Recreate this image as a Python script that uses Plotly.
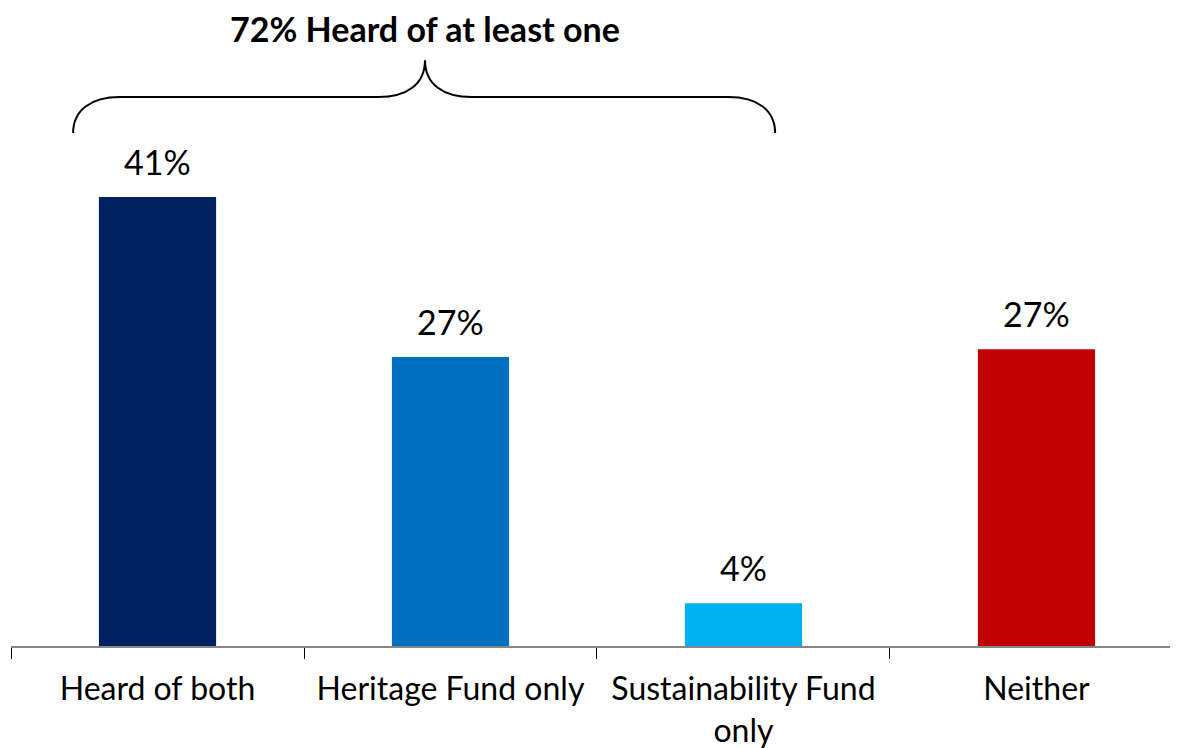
import plotly.graph_objects as go

categories = ["Heard of both", "Heritage Fund only", "Sustainability Fund<br>only", "Neither"]
values = [41.0, 26.4, 3.9, 27.1]
value_labels = ["41%", "27%", "4%", "27%"]
colors = ["#002060", "#0070C0", "#00B0F0", "#C00000"]
brace_title = "72% Heard of at least one"

FONT = "Lato"

fig = go.Figure()
fig.add_trace(go.Bar(
    x=categories,
    y=values,
    marker=dict(color=colors, line=dict(width=0)),
    width=0.4,
    hoverinfo="skip",
))

# value labels above the bars
for i, (v, lab) in enumerate(zip(values, value_labels)):
    fig.add_annotation(x=i, y=v, text=lab, showarrow=False, yanchor="bottom",
                       yshift=13, font=dict(family=FONT, size=34, color="black"))

# curly brace over the first three bars
x0, x1, xm = -0.288, 2.108, 0.913
yb, yh, yp = 46.85, 50.14, 53.5
brace = (
    f"M {x0},{yb} C {x0},{yh-1.2} {x0+0.06},{yh} {x0+0.16},{yh} "
    f"L {xm-0.16},{yh} C {xm-0.06},{yh} {xm},{yh+1.2} {xm},{yp} "
    f"C {xm},{yh+1.2} {xm+0.06},{yh} {xm+0.16},{yh} "
    f"L {x1-0.16},{yh} C {x1-0.06},{yh} {x1},{yh-1.2} {x1},{yb}"
)
fig.add_shape(type="path", path=brace, xref="x", yref="y",
              line=dict(color="black", width=2))
fig.add_annotation(x=xm, y=56.4, text=f"<b>{brace_title}</b>", showarrow=False,
                   yanchor="middle", font=dict(family=FONT, size=34, color="black"))

fig.update_layout(
    width=1178, height=748,
    margin=dict(l=3, r=8, t=0, b=110),
    plot_bgcolor="white", paper_bgcolor="white",
    showlegend=False,
    font=dict(family=FONT, color="black"),
)
fig.update_xaxes(
    type="category",
    range=[-0.5, 3.483],
    showline=True, linecolor="#868686", linewidth=2,
    ticks="outside", tickson="boundaries", ticklen=11, tickcolor="black", tickwidth=1,
    tickfont=dict(family=FONT, size=32, color="black"),
    ticklabelstandoff=14,
    showgrid=False, zeroline=False,
)
fig.update_yaxes(range=[0, 58.27], visible=False, showgrid=False, zeroline=False)

fig.write_html("out.html")
